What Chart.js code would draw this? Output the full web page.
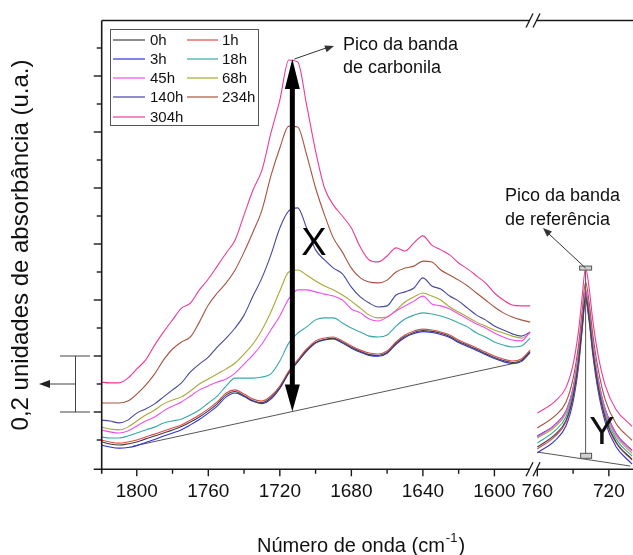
<!DOCTYPE html>
<html><head><meta charset="utf-8">
<script src="https://cdn.jsdelivr.net/npm/chart.js@4.4.0/dist/chart.umd.min.js"></script>
<style>html,body{margin:0;padding:0;background:#fff;overflow:hidden}canvas{display:block}</style>
</head><body><canvas id="c" width="633" height="555"></canvas>
<script>
// ---------------- DATA ----------------
const seriesNames = ['0h','1h','3h','18h','45h','68h','140h','234h','304h'];
const seriesColors = ['#404040','#dc4a4a','#3030d8','#3aa8a8','#ee50ee','#a8a838','#4646a0','#a8523f','#ee3a96'];

// wavenumbers (cm-1), carbonyl region and reference region
const wnCarbonyl = [1820,1815,1810,1805,1800,1795,1790,1785,1780,1775,1770,1765,1760,1755,1750,1745,1740,1735,1730,1725,1720,1715,1710,1705,1700,1695,1690,1685,1680,1675,1670,1665,1660,1655,1650,1645,1640,1635,1630,1625,1620,1615,1610,1605,1600,1595,1590,1585,1580];
const wnReference = [760,750,744,740,737,735,733,731,729,726,722,716,707];

// absorbance (a.u.)
const abs0hCarbonyl = [0.094,0.086,0.082,0.086,0.093,0.104,0.114,0.125,0.136,0.148,0.164,0.182,0.204,0.229,0.261,0.273,0.258,0.240,0.233,0.251,0.287,0.340,0.380,0.419,0.448,0.459,0.463,0.449,0.431,0.416,0.405,0.402,0.413,0.445,0.470,0.484,0.491,0.488,0.481,0.470,0.452,0.438,0.424,0.409,0.395,0.384,0.377,0.384,0.416];
const abs1hCarbonyl = [0.100,0.093,0.089,0.093,0.100,0.111,0.121,0.132,0.143,0.154,0.171,0.189,0.211,0.236,0.268,0.279,0.264,0.246,0.239,0.257,0.293,0.346,0.386,0.425,0.454,0.464,0.468,0.454,0.436,0.421,0.411,0.407,0.418,0.450,0.475,0.489,0.496,0.493,0.486,0.475,0.457,0.443,0.429,0.414,0.400,0.389,0.382,0.389,0.421];
const abs3hCarbonyl = [0.082,0.075,0.071,0.073,0.080,0.091,0.102,0.114,0.125,0.137,0.154,0.173,0.196,0.221,0.254,0.268,0.255,0.238,0.230,0.246,0.284,0.339,0.379,0.417,0.446,0.457,0.461,0.446,0.428,0.413,0.402,0.399,0.410,0.442,0.466,0.480,0.487,0.484,0.477,0.466,0.448,0.434,0.420,0.405,0.391,0.380,0.373,0.380,0.412];
const abs18hCarbonyl = [0.111,0.107,0.107,0.114,0.125,0.136,0.146,0.161,0.168,0.175,0.189,0.207,0.232,0.257,0.293,0.321,0.321,0.321,0.325,0.336,0.382,0.446,0.482,0.504,0.529,0.536,0.536,0.518,0.500,0.486,0.471,0.468,0.475,0.507,0.532,0.546,0.554,0.550,0.543,0.532,0.518,0.504,0.482,0.468,0.450,0.439,0.432,0.436,0.464];
const abs45hCarbonyl = [0.136,0.129,0.125,0.132,0.150,0.168,0.182,0.204,0.221,0.236,0.257,0.279,0.293,0.307,0.318,0.339,0.371,0.404,0.443,0.493,0.543,0.604,0.636,0.636,0.629,0.621,0.614,0.600,0.568,0.554,0.532,0.525,0.539,0.561,0.579,0.596,0.614,0.586,0.579,0.568,0.550,0.532,0.514,0.500,0.482,0.468,0.457,0.454,0.486];
const abs68hCarbonyl = [0.146,0.139,0.136,0.146,0.168,0.189,0.207,0.229,0.243,0.254,0.275,0.300,0.318,0.336,0.354,0.375,0.407,0.443,0.493,0.557,0.632,0.700,0.707,0.689,0.668,0.650,0.636,0.618,0.596,0.571,0.546,0.536,0.539,0.564,0.593,0.611,0.625,0.614,0.600,0.575,0.557,0.539,0.521,0.507,0.493,0.482,0.471,0.464,0.482];
const abs140hCarbonyl = [0.171,0.168,0.161,0.171,0.196,0.211,0.229,0.254,0.279,0.304,0.343,0.371,0.396,0.432,0.464,0.500,0.546,0.614,0.679,0.761,0.857,0.918,0.929,0.857,0.779,0.743,0.714,0.693,0.646,0.611,0.589,0.575,0.579,0.618,0.629,0.643,0.679,0.650,0.639,0.614,0.596,0.571,0.546,0.529,0.507,0.493,0.479,0.471,0.486];
const abs234hCarbonyl = [0.232,0.232,0.232,0.239,0.264,0.296,0.336,0.386,0.425,0.450,0.468,0.521,0.582,0.625,0.661,0.707,0.771,0.843,0.921,1.043,1.143,1.221,1.218,1.118,1.000,0.904,0.821,0.771,0.714,0.679,0.664,0.661,0.671,0.700,0.714,0.721,0.739,0.736,0.707,0.689,0.671,0.650,0.625,0.600,0.575,0.554,0.539,0.529,0.521];
const abs304hCarbonyl = [0.307,0.304,0.304,0.321,0.354,0.386,0.439,0.486,0.529,0.571,0.589,0.636,0.675,0.721,0.768,0.814,0.904,0.993,1.064,1.196,1.314,1.457,1.450,1.296,1.132,1.000,0.939,0.900,0.857,0.789,0.743,0.736,0.757,0.786,0.775,0.804,0.829,0.796,0.779,0.761,0.732,0.711,0.686,0.661,0.625,0.600,0.582,0.579,0.579];

const abs0hReference = [0.075,0.120,0.170,0.256,0.377,0.500,0.611,0.535,0.419,0.291,0.179,0.093,0.031];
const abs1hReference = [0.068,0.114,0.164,0.251,0.374,0.498,0.614,0.537,0.419,0.289,0.176,0.089,0.028];
const abs3hReference = [0.054,0.099,0.150,0.237,0.360,0.486,0.600,0.523,0.406,0.276,0.163,0.076,0.014];
const abs18hReference = [0.089,0.134,0.183,0.269,0.389,0.511,0.621,0.546,0.430,0.302,0.190,0.104,0.042];
const abs45hReference = [0.111,0.154,0.202,0.286,0.406,0.526,0.636,0.560,0.446,0.319,0.208,0.121,0.060];
const abs68hReference = [0.107,0.148,0.195,0.278,0.394,0.511,0.618,0.544,0.432,0.308,0.198,0.114,0.052];
const abs140hReference = [0.114,0.156,0.204,0.286,0.403,0.521,0.629,0.555,0.443,0.318,0.209,0.124,0.063];
const abs234hReference = [0.143,0.187,0.235,0.319,0.437,0.556,0.664,0.590,0.478,0.353,0.243,0.159,0.099];
const abs304hReference = [0.196,0.239,0.287,0.370,0.488,0.607,0.714,0.641,0.528,0.403,0.294,0.209,0.149];

// tangent baselines
const baselineCarbonylWn = [1802,1586];
const baselineCarbonylAbs = [0.078,0.378];
const baselineReferenceWn = [760,708];
const baselineReferenceAbs = [0.057,0.007];

// axis ticks
const majorTicksCarbonyl = [1800,1760,1720,1680,1640,1600];
const minorTicksCarbonyl = [1780,1740,1700,1660,1620];
const majorTicksReference = [760,720];
const minorTicksReference = [740];
const yMajorTicks = [0.2,0.4,0.6,0.8,1.0,1.2,1.4];
const yMinorTicks = [0.1,0.3,0.5,0.7,0.9,1.1,1.3,1.5];
const carbonylPeakWn = 1713;
const referencePeakWn = 733;
const scaleBarFrom = 0.2, scaleBarTo = 0.4;

// --------------- broken-axis mapping -----------------
const CARB_ORIGIN = 1820, REF_ORIGIN = 1004, BREAK_AT = 241.6;
const axC = wn => CARB_ORIGIN - wn;
const axR = wn => REF_ORIGIN - wn;

const carb = [abs0hCarbonyl,abs1hCarbonyl,abs3hCarbonyl,abs18hCarbonyl,abs45hCarbonyl,abs68hCarbonyl,abs140hCarbonyl,abs234hCarbonyl,abs304hCarbonyl];
const ref = [abs0hReference,abs1hReference,abs3hReference,abs18hReference,abs45hReference,abs68hReference,abs140hReference,abs234hReference,abs304hReference];

const datasets = seriesNames.map((n,i)=>({
  label:n,
  borderColor:seriesColors[i],
  data: wnCarbonyl.map((w,k)=>({x:axC(w),y:carb[i][k]}))
        .concat([{x:BREAK_AT,y:null}])
        .concat(wnReference.map((w,k)=>({x:axR(w),y:ref[i][k]}))),
  borderWidth:1.1, pointRadius:0, cubicInterpolationMode:'monotone', spanGaps:false
}));
datasets.push({
  label:'baseline', borderColor:'#555', borderWidth:1, pointRadius:0,
  data: baselineCarbonylWn.map((w,k)=>({x:axC(w),y:baselineCarbonylAbs[k]}))
        .concat([{x:BREAK_AT,y:null}])
        .concat(baselineReferenceWn.map((w,k)=>({x:axR(w),y:baselineReferenceAbs[k]})))
});

const FONT = "'Liberation Sans', Arial, sans-serif";

function line(ctx,x1,y1,x2,y2){ctx.beginPath();ctx.moveTo(x1,y1);ctx.lineTo(x2,y2);ctx.stroke();}
function head(ctx,x1,y1,x2,y2,len,hw){
  const a=Math.atan2(y2-y1,x2-x1), c=Math.cos(a), s=Math.sin(a);
  ctx.beginPath();ctx.moveTo(x2,y2);
  ctx.lineTo(x2-len*c+hw*s, y2-len*s-hw*c);
  ctx.lineTo(x2-len*c-hw*s, y2-len*s+hw*c);
  ctx.closePath();ctx.fill();
}
function interp(xs,ys,x){const t=(x-xs[0])/(xs[1]-xs[0]);return ys[0]+t*(ys[1]-ys[0]);}

const decor = {
  id:'decor',
  afterDatasetsDraw(chart){
    const {ctx, chartArea:ca, scales} = chart;
    const X = v => scales.x.getPixelForValue(v);
    const Y = v => scales.y.getPixelForValue(v);
    const W = chart.width;
    ctx.save();
    const axY = ca.bottom + 1.3, axX = ca.left + 0.7, brk = X(BREAK_AT), topY = ca.top + 0.5;
    ctx.strokeStyle = '#1a1a1a'; ctx.lineWidth = 1.6;
    line(ctx, axX-8, axY, brk-3.5, axY); line(ctx, brk+3.5, axY, W, axY);
    line(ctx, axX, topY, brk-3.5, topY); line(ctx, brk+3.5, topY, W, topY);
    line(ctx, axX, topY, axX, axY+4.5);
    // break marks
    ctx.lineWidth = 1.3;
    [axY, topY].forEach(yy=>{
      [-3.5, 3.5].forEach(d=>{ line(ctx, brk+d-3.5, yy+7, brk+d+3.5, yy-7); });
    });
    // ticks
    ctx.lineWidth = 1.4;
    yMajorTicks.forEach(v=>line(ctx, axX-8, Y(v), axX, Y(v)));
    yMinorTicks.forEach(v=>line(ctx, axX-5, Y(v), axX, Y(v)));
    majorTicksCarbonyl.forEach(w=>line(ctx, X(axC(w)), axY, X(axC(w)), axY+7));
    minorTicksCarbonyl.forEach(w=>line(ctx, X(axC(w)), axY, X(axC(w)), axY+4.5));
    majorTicksReference.forEach(w=>line(ctx, X(axR(w)), axY, X(axR(w)), axY+7));
    minorTicksReference.forEach(w=>line(ctx, X(axR(w)), axY, X(axR(w)), axY+4.5));
    // tick labels
    ctx.fillStyle = '#111'; ctx.font = '19px '+FONT; ctx.textAlign='center'; ctx.textBaseline='alphabetic';
    majorTicksCarbonyl.forEach(w=>ctx.fillText(String(w), X(axC(w)), 497));
    majorTicksReference.forEach(w=>ctx.fillText(String(w), X(axR(w)), 497));
    // x title with superscript
    ctx.textAlign='left';
    const t1='Número de onda (cm', sup='-1', t3=')';
    ctx.font='20px '+FONT; const w1=ctx.measureText(t1).width, w3=ctx.measureText(t3).width;
    ctx.font='13px '+FONT; const w2=ctx.measureText(sup).width;
    let sx = 360 - (w1+w2+w3)/2;
    ctx.font='20px '+FONT; ctx.fillText(t1, sx, 552);
    ctx.font='13px '+FONT; ctx.fillText(sup, sx+w1+1, 542);
    ctx.font='20px '+FONT; ctx.fillText(t3, sx+w1+w2+2, 552);
    // y title
    ctx.save(); ctx.translate(21, 245); ctx.rotate(-Math.PI/2);
    ctx.textAlign='center'; ctx.textBaseline='middle'; ctx.font='24px '+FONT;
    ctx.fillText('0,2 unidades de absorbância (u.a.)', 0, 0); ctx.restore();
    // scale bar
    ctx.strokeStyle='#444'; ctx.fillStyle='#222'; ctx.lineWidth=1;
    const sb1=Y(scaleBarTo), sb0=Y(scaleBarFrom), sbm=(sb0+sb1)/2;
    line(ctx, 75.5, sb1, 75.5, sb0); line(ctx, 60, sb1, 90, sb1); line(ctx, 60, sb0, 90, sb0);
    line(ctx, 75.5, sbm, 48, sbm); head(ctx, 75, sbm, 39, sbm, 11, 4);
    // legend
    ctx.strokeStyle='#555'; ctx.lineWidth=1; ctx.strokeRect(110.5, 29.5, 148, 96);
    ctx.font='15px '+FONT; ctx.textBaseline='middle'; ctx.textAlign='left'; ctx.fillStyle='#111';
    const rows=[40,59,78,97,117];
    seriesNames.forEach((n,i)=>{
      const col=i%2, r=Math.floor(i/2);
      const lx = col===0 ? 113 : 187, lw = col===0 ? 32 : 31, tx = col===0 ? 150 : 222;
      ctx.strokeStyle=seriesColors[i]; ctx.lineWidth=1.2;
      line(ctx, lx, rows[r], lx+lw, rows[r]);
      ctx.fillText(n, tx, rows[r]+1);
    });
    // carbonyl double arrow X
    const cx = X(axC(carbonylPeakWn));
    const topV = Math.max(...abs304hCarbonyl);
    const cTop = Y(topV) - 1;
    const cBot = Y(interp(baselineCarbonylWn, baselineCarbonylAbs, carbonylPeakWn));
    ctx.strokeStyle='#000'; ctx.fillStyle='#000'; ctx.lineWidth=5;
    line(ctx, cx, cTop+20, cx, cBot-20);
    head(ctx, cx, cBot, cx, cTop, 30, 7.5);
    head(ctx, cx, cTop, cx, cBot, 27, 7.5);
    ctx.font='38px '+FONT; ctx.textAlign='center'; ctx.textBaseline='middle';
    ctx.fillText('X', 314, 245);
    // pointer to carbonyl peak
    ctx.strokeStyle='#333'; ctx.fillStyle='#333'; ctx.lineWidth=1;
    line(ctx, cx+2, cTop, 326, 48); head(ctx, cx+2, cTop, 334, 46, 9, 3.5);
    ctx.fillStyle='#111'; ctx.font='18px '+FONT; ctx.textAlign='left'; ctx.textBaseline='alphabetic';
    ctx.fillText('Pico da banda', 343, 50); ctx.fillText('de carbonila', 343, 73);
    // reference Y marker
    const rx = X(axR(referencePeakWn));
    const rTop = Y(Math.max(...abs304hReference));
    const rBot = Y(interp(baselineReferenceWn, baselineReferenceAbs, referencePeakWn)) - 2;
    ctx.strokeStyle='#555'; ctx.lineWidth=1;
    line(ctx, rx, rTop, rx, rBot);
    ctx.fillStyle='#d0d0d0';
    ctx.fillRect(rx-6, rTop-2, 12, 4); ctx.strokeRect(rx-6, rTop-2, 12, 4);
    ctx.fillRect(rx-5, rBot-4, 11, 5); ctx.strokeRect(rx-5, rBot-4, 11, 5);
    ctx.strokeStyle='#333'; ctx.fillStyle='#333';
    line(ctx, rx, rTop, 549, 234); head(ctx, rx, rTop, 543, 228, 9, 3.5);
    ctx.fillStyle='#111'; ctx.font='38px '+FONT; ctx.textAlign='center'; ctx.textBaseline='middle';
    ctx.fillText('Y', 602, 434);
    ctx.font='18px '+FONT; ctx.textAlign='left'; ctx.textBaseline='alphabetic';
    ctx.fillText('Pico da banda', 505, 201); ctx.fillText('de referência', 505, 225);
    ctx.restore();
  }
};

new Chart(document.getElementById('c').getContext('2d'), {
  type:'line',
  data:{datasets},
  options:{
    responsive:false, animation:false, devicePixelRatio:1,
    layout:{padding:{left:101, top:20, right:0, bottom:87}},
    scales:{
      x:{type:'linear', min:0, max:297.5, display:false},
      y:{type:'linear', min:0, max:1.6, display:false}
    },
    plugins:{legend:{display:false}, tooltip:{enabled:false}}
  },
  plugins:[decor]
});
</script>
</body></html>
